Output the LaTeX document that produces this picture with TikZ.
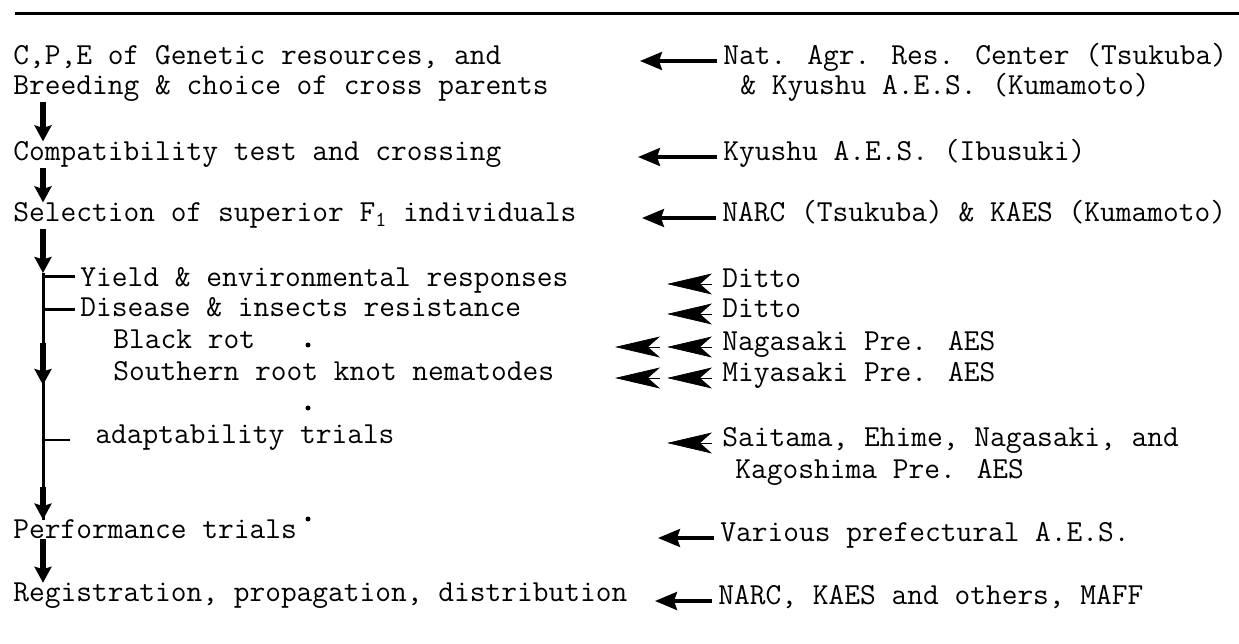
\documentclass[tikz,border=0pt]{standalone}
\usepackage{fontspec}
\usetikzlibrary{arrows.meta}
\begin{document}
\begin{tikzpicture}[x=0.02cm, y=-0.02cm,
  txt/.style={anchor=mid west, inner sep=0pt, font=\ttfamily\fontsize{17.4}{20}\selectfont},
  flow/.style={line width=0.11cm, -{Stealth[length=0.32cm,width=0.34cm,inset=0.05cm]}},
  spine/.style={line width=0.06cm},
  feed/.style={line width=0.065cm, shorten <=0.12cm, -{Stealth[length=0.44cm,width=0.36cm,inset=0.06cm]}},
  dart/.style={line width=0.4pt, -{Stealth[length=0.9cm,width=0.42cm,inset=0.24cm]}}]
\useasboundingbox (0,0) rectangle (1239,644);

% rule on top
\draw[line width=0.06cm] (15,14) -- (1239,14);

% the steps (left)
\node[txt] (cpe) at (13,61) {C,P,E of Genetic resources, and};
\node[txt] (breed) at (13,91) {Breeding \& choice of cross parents};
\node[txt] (compat) at (13,157) {Compatibility test and crossing};
\node[txt] (select) at (13,218) {Selection of superior F\textsubscript{1} individuals};
\node[txt] (yield) at (80,283) {Yield \& environmental responses};
\node[txt] (disease) at (80,313) {Disease \& insects resistance};
\node[txt] (black) at (113,345) {Black rot};
\node[txt] (south) at (113,377) {Southern root knot nematodes};
\node[txt] (adapt) at (95,440) {adaptability trials};
\node[txt] (perf) at (13,535) {Performance trials};
\node[txt] (reg) at (13,598) {Registration, propagation, distribution};

% who does it (right)
\node[txt] (natagr) at (723,61) {Nat. Agr. Res. Center (Tsukuba)};
\node[txt] (kyukuma) at (740,91) {\& Kyushu A.E.S. (Kumamoto)};
\node[txt] (ibusuki) at (723,157) {Kyushu A.E.S. (Ibusuki)};
\node[txt] (narcsel) at (722,218) {NARC (Tsukuba) \& KAES (Kumamoto)};
\node[txt] (ditto1) at (722,284) {Ditto};
\node[txt] (ditto2) at (722,314) {Ditto};
\node[txt] (naga) at (722,347) {Nagasaki Pre. AES};
\node[txt] (miya) at (722,378) {Miyasaki Pre. AES};
\node[txt] (sait) at (722,443) {Saitama, Ehime, Nagasaki, and};
\node[txt] (kago) at (735,475) {Kagoshima Pre. AES};
\node[txt] (various) at (720,538) {Various prefectural A.E.S.};
\node[txt] (narcreg) at (718,601) {NARC, KAES and others, MAFF};

% spine of the flow
\coordinate (sp) at (43,0);
\coordinate (fork) at (43,273);
\coordinate (m1) at (43,343);
\coordinate (m2) at (43,385);
\coordinate (m3) at (43,487);
\draw[flow] (breed.south -| sp) -- (compat.north -| sp);
\draw[flow] (compat.south -| sp) -- (select.north -| sp);
\draw[spine] (fork) -- (perf.north -| sp);
\draw[flow] (select.south -| sp) -- (fork);
\draw[flow] (m1) -- (m2);
\draw[flow] (m3) -- (perf.north -| sp);
\draw[flow] (perf.south -| sp) -- (reg.north -| sp);

% side branches
\draw[spine] ([yshift=0.12cm]yield.mid west -| sp) -- ([xshift=-0.1cm,yshift=0.12cm]yield.mid west);
\draw[spine] ([yshift=0.06cm]disease.mid west -| sp) -- ([xshift=-0.1cm,yshift=0.06cm]disease.mid west);
\draw[spine] (adapt.mid west -| sp) -- ([xshift=-0.5cm]adapt.mid west);

% stray dots
\fill (308,345) circle (0.05cm);
\fill (308,408) circle (0.05cm);
\fill (308,519) circle (0.05cm);

% arrows from the stations
\draw[feed] (natagr.mid west) -- ++(-83,0);
\draw[feed] (ibusuki.mid west) -- ++(-85,0);
\draw[feed] (narcsel.mid west) -- ++(-80,0);
\draw[feed] (various.mid west) -- ++(-62,0);
\draw[feed] (narcreg.mid west) -- ++(-63,0);
\draw[dart] ([xshift=-0.2cm]ditto1.mid west) -- ++(-45,0);
\draw[dart] ([xshift=-0.2cm]ditto2.mid west) -- ++(-45,0);
\draw[dart] ([xshift=-0.2cm]naga.mid west) -- ++(-45,0);
\draw[dart] ([xshift=-1.24cm]naga.mid west) -- ++(-45,0);
\draw[dart] ([xshift=-0.2cm]miya.mid west) -- ++(-45,0);
\draw[dart] ([xshift=-1.24cm]miya.mid west) -- ++(-45,0);
\draw[dart] ([xshift=-0.2cm]sait.mid west) -- ++(-45,0);
\end{tikzpicture}
\end{document}
